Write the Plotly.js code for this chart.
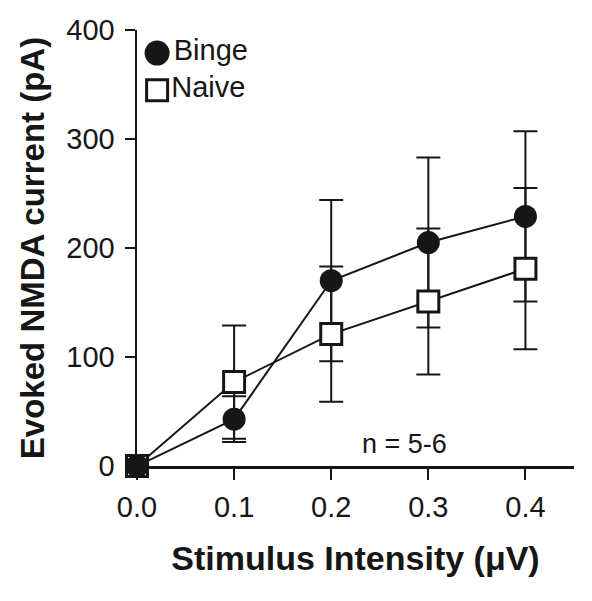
<!DOCTYPE html>
<html>
<head>
<meta charset="utf-8">
<script src="https://cdn.plot.ly/plotly-3.0.1.min.js"></script>
<style>html,body{margin:0;padding:0;background:#fff;}#chart{width:592px;height:601px;}</style>
</head>
<body>
<div id="chart"></div>
<script>
// Data
const intensity = [0.0, 0.1, 0.2, 0.3, 0.4];
const bingeMean = [0, 43, 170, 205, 229];
const bingeErr  = [0, 21, 74, 78, 78];
const naiveMean = [0, 77, 121, 151, 181];
const naiveErr  = [0, 52, 62, 67, 74];
const xTickVals = [0, 0.1, 0.2, 0.3, 0.4];
const xTickText = ['0.0', '0.1', '0.2', '0.3', '0.4'];
const legendNames = ['Binge', 'Naive'];

const INK = '#161616';
const FONT = 'Liberation Sans, Arial, Helvetica, sans-serif';

function errBars(arr) {
  return {type: 'data', array: arr, visible: true, color: INK, thickness: 2, width: 12};
}

const traces = [
  // error bars drawn first, underneath all markers
  {x: intensity, y: bingeMean, mode: 'markers', marker: {size: 1, opacity: 0},
   error_y: errBars(bingeErr), showlegend: false, hoverinfo: 'skip', cliponaxis: false},
  {x: intensity, y: naiveMean, mode: 'markers', marker: {size: 1, opacity: 0},
   error_y: errBars(naiveErr), showlegend: false, hoverinfo: 'skip', cliponaxis: false},
  // Naive series
  {x: intensity, y: naiveMean, mode: 'lines+markers', name: 'Naive',
   line: {color: INK, width: 2},
   marker: {symbol: 'square', size: 21, color: '#ffffff', line: {color: INK, width: 3}},
   showlegend: false, cliponaxis: false},
  // Binge series
  {x: intensity, y: bingeMean, mode: 'lines+markers', name: 'Binge',
   line: {color: INK, width: 2},
   marker: {symbol: 'circle', size: 23, color: INK, line: {color: INK, width: 0}},
   showlegend: false, cliponaxis: false},
  // legend keys (in an overlay axis with a 0..1 range)
  {x: [0.046], y: [0.947], xaxis: 'x2', yaxis: 'y2', mode: 'markers+text',
   text: [legendNames[0]], textposition: 'middle right',
   textfont: {family: FONT, size: 29, color: INK},
   marker: {symbol: 'circle', size: 25, color: INK}, showlegend: false, hoverinfo: 'skip', cliponaxis: false},
  {x: [0.046], y: [0.862], xaxis: 'x2', yaxis: 'y2', mode: 'markers+text',
   text: [legendNames[1]], textposition: 'middle right',
   textfont: {family: FONT, size: 29, color: INK},
   marker: {symbol: 'square', size: 21, color: '#ffffff', line: {color: INK, width: 3}},
   showlegend: false, hoverinfo: 'skip', cliponaxis: false}
];

const layout = {
  width: 592, height: 601,
  margin: {l: 137, r: 18, t: 30, b: 135},
  paper_bgcolor: '#ffffff', plot_bgcolor: '#ffffff',
  showlegend: false,
  font: {family: FONT, color: INK},
  xaxis: {
    range: [0, 0.45], tickvals: xTickVals, ticktext: xTickText,
    showgrid: false, zeroline: false, showline: true, linecolor: INK, linewidth: 2.5,
    ticks: 'outside', ticklen: 11, tickwidth: 2, tickcolor: INK,
    tickfont: {family: FONT, size: 29, color: INK},
    ticklabelstandoff: 3,
    title: {text: 'Stimulus Intensity (μV)', font: {family: FONT, size: 34, color: INK, weight: 'bold'}, standoff: 24},
    automargin: false, fixedrange: true
  },
  yaxis: {
    range: [0, 400], tickvals: [0, 100, 200, 300, 400],
    showgrid: false, zeroline: false, showline: true, linecolor: INK, linewidth: 2.5,
    ticks: 'outside', ticklen: 10, tickwidth: 2, tickcolor: INK,
    tickfont: {family: FONT, size: 29, color: INK},
    ticklabelstandoff: 4,
    title: {text: 'Evoked NMDA current (pA)', font: {family: FONT, size: 33, color: INK, weight: 'bold'}, standoff: 12},
    automargin: false, fixedrange: true
  },
  xaxis2: {overlaying: 'x', range: [0, 1], visible: false, fixedrange: true},
  yaxis2: {overlaying: 'y', range: [0, 1], visible: false, fixedrange: true},
  annotations: [
    {x: 0.275, y: 20, xref: 'x', yref: 'y', text: 'n = 5-6', showarrow: false,
     font: {family: FONT, size: 27, color: INK}}
  ]
};

Plotly.newPlot('chart', traces, layout, {displayModeBar: false, staticPlot: true});
</script>
</body>
</html>
